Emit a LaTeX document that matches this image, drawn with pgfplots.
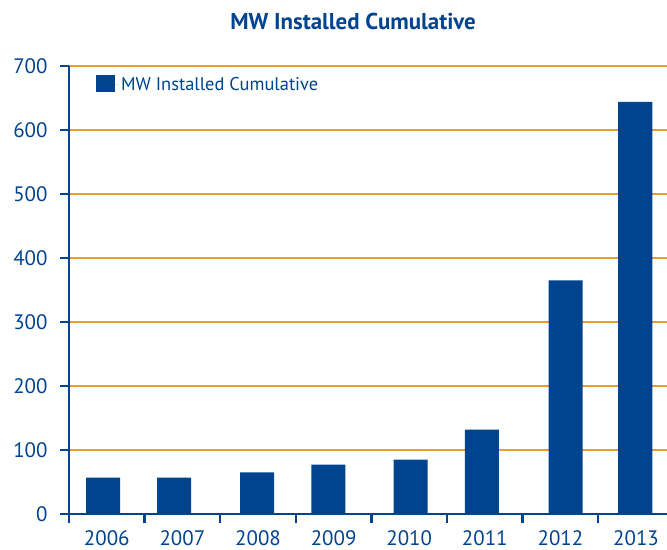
\documentclass[border=0pt]{standalone}
\usepackage{pgfplots}
\pgfplotsset{compat=1.18}
\usepackage{fontspec}
\setmainfont{PT Sans}
\definecolor{barblue}{HTML}{00438F}
\definecolor{gridorange}{HTML}{EF9A2C}

\begin{document}
\begin{tikzpicture}
  \begin{axis}[
      scale only axis,
      width=598bp,
      height=448bp,
      xmin=0, xmax=7.91,
      ymin=0, ymax=700,
      axis x line*=bottom,
      axis y line*=left,
      axis line style={barblue, line width=2.5bp, -},
      ytick={0,100,...,700},
      ymajorgrids,
      grid style={gridorange, line width=1.4bp},
      tick align=outside,
      major tick length=9bp,
      tick style={barblue, line width=2.5bp},
      xtick={0.5,1.5,...,7.5},
      xticklabels={2006,2007,2008,2009,2010,2011,2012,2013},
      x tick style={draw=none},
      extra x ticks={0,1,...,7},
      extra x tick labels={},
      extra x tick style={grid=none, x tick style={draw=barblue}},
      ticklabel style={font=\fontsize{21}{21}\selectfont, text=barblue},
      /pgf/number format/assume math mode=true,
      yticklabel style={xshift=-9bp},
      xticklabel style={yshift=-4bp},
      title={MW Installed Cumulative},
      title style={at={(0.475,1)}, anchor=south, yshift=27bp,
        font=\bfseries\fontsize{23}{23}\selectfont, text=barblue},
      legend style={at={(0.04,0.985)}, anchor=north west, draw=none,
        fill=none, font=\fontsize{18.5}{18.5}\selectfont, text=barblue},
      legend image code/.code={
        \fill[barblue] (0bp,-8bp) rectangle (19bp,9bp);
        \path (0bp,0bp) -- (23bp,0bp);},
    ]
    \addplot[ybar, bar width=34bp, fill=barblue, draw=none] coordinates {
      (0.45,57) (1.39,57) (2.49,65) (3.43,77)
      (4.52,85) (5.46,132) (6.57,365) (7.49,644)
    };
    \addlegendentry{MW Installed Cumulative}
  \end{axis}
  \pgfresetboundingbox
  \path ([shift={(-69bp,-36bp)}]current axis.south west)
    rectangle ([shift={(0bp,66bp)}]current axis.north east);
\end{tikzpicture}
\end{document}
